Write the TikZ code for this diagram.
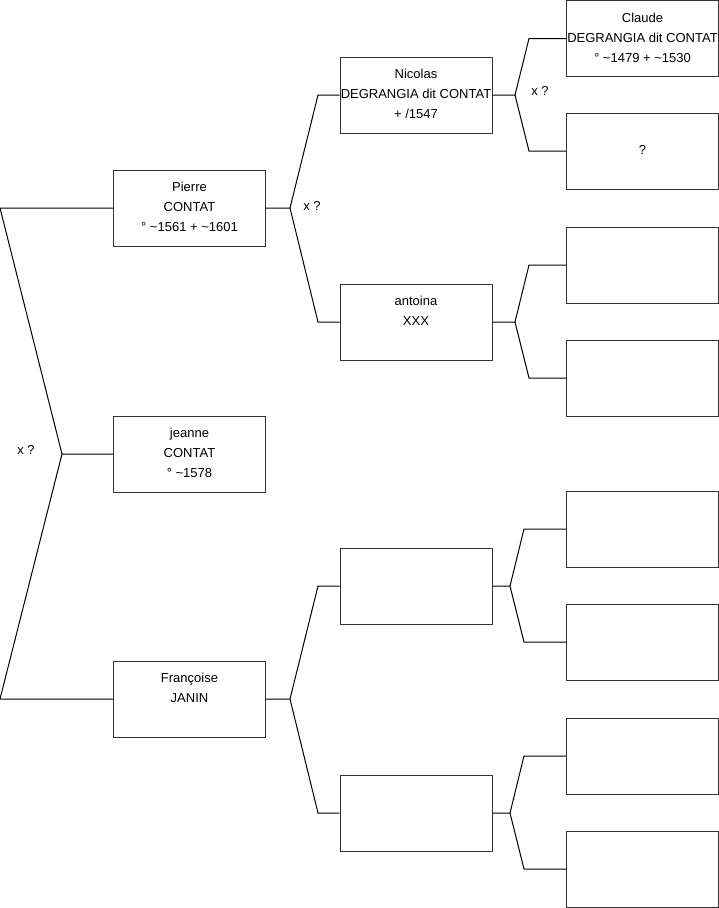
\documentclass[tikz,border=0pt]{standalone}
\usepackage{fontspec}
\setmainfont{Liberation Sans}

\begin{document}
\begin{tikzpicture}[x=1pt,y=-1pt,
    box/.style={draw=black!80, line width=1pt, minimum width=152pt, minimum height=76pt, inner sep=0pt},
    who/.style={align=center, font=\fontsize{13}{20}\selectfont, inner sep=0pt, yshift=1pt},
    link/.style={line width=1pt}]
        \useasboundingbox (0,0) rectangle (719,908);

        % First column
        \node[box] (pierre) at (189.5,208) {};
        \node[who] (pierre-t) at (pierre) {Pierre\\CONTAT\\° \textasciitilde1561 + \textasciitilde1601};
        \node[box] (jeanne) at (189.5,454) {};
        \node[who] (jeanne-t) at (jeanne) {jeanne\\CONTAT\\° \textasciitilde1578};
        \node[box] (francoise) at (189.5,699) {};
        \node[who] (francoise-t) at (francoise) {Françoise\\JANIN\\\mbox{}};

        % Second column
        \node[box] (nicolas) at (416,95) {};
        \node[who] (nicolas-t) at (nicolas) {Nicolas\\DEGRANGIA dit CONTAT\\+ /1547};
        \node[box] (antoina) at (416,322) {};
        \node[who] (antoina-t) at (antoina) {antoina\\XXX\\\mbox{}};
        \node[box] (fpere) at (416,586) {};
        \node[box] (fmere) at (416,813) {};

        % Third column
        \node[box] (claude) at (642.5,38.5) {};
        \node[who] (claude-t) at (claude) {Claude\\DEGRANGIA dit CONTAT\\° \textasciitilde1479 + \textasciitilde1530};
        \node[box] (nmere) at (642.5,151) {};
        \node[who] (nmere-t) at (nmere) {?};
        \node[box] (apere) at (642.5,265) {};
        \node[box] (amere) at (642.5,378) {};
        \node[box] (fppere) at (642.5,529) {};
        \node[box] (fpmere) at (642.5,642) {};
        \node[box] (fmpere) at (642.5,756) {};
        \node[box] (fmmere) at (642.5,869) {};

        % Forks
        \coordinate (k-jeanne) at (62,454);
        \coordinate (k-pierre) at (290,208);
        \coordinate (k-francoise) at (290,699);
        \coordinate (k-nicolas) at (515,95);
        \coordinate (k-antoina) at (515,322);
        \coordinate (k-fpere) at (510,586);
        \coordinate (k-fmere) at (510,813);

        \draw[link] (jeanne.west) -- (k-jeanne) -- (0,208) -- (pierre.west);
        \draw[link] (k-jeanne) -- (0,699) -- (francoise.west);

        \draw[link] (pierre.east) -- (k-pierre) -- (318,95) -- (nicolas.west);
        \draw[link] (k-pierre) -- (318,322) -- (antoina.west);
        \draw[link] (francoise.east) -- (k-francoise) -- (318,586) -- (fpere.west);
        \draw[link] (k-francoise) -- (318,813) -- (fmere.west);

        \draw[link] (nicolas.east) -- (k-nicolas) -- (529,38.5) -- (claude.west);
        \draw[link] (k-nicolas) -- (529,151) -- (nmere.west);
        \draw[link] (antoina.east) -- (k-antoina) -- (529,265) -- (apere.west);
        \draw[link] (k-antoina) -- (529,378) -- (amere.west);
        \draw[link] (fpere.east) -- (k-fpere) -- (524,529) -- (fppere.west);
        \draw[link] (k-fpere) -- (524,642) -- (fpmere.west);
        \draw[link] (fmere.east) -- (k-fmere) -- (524,756) -- (fmpere.west);
        \draw[link] (k-fmere) -- (524,869) -- (fmmere.west);

        % Marriage marks
        \node[who] (x-jeanne) at (26,451) {x ?};
        \node[who] (x-pierre) at (312,207) {x ?};
        \node[who] (x-nicolas) at (540,92) {x ?};
    \end{tikzpicture}
\end{document}
